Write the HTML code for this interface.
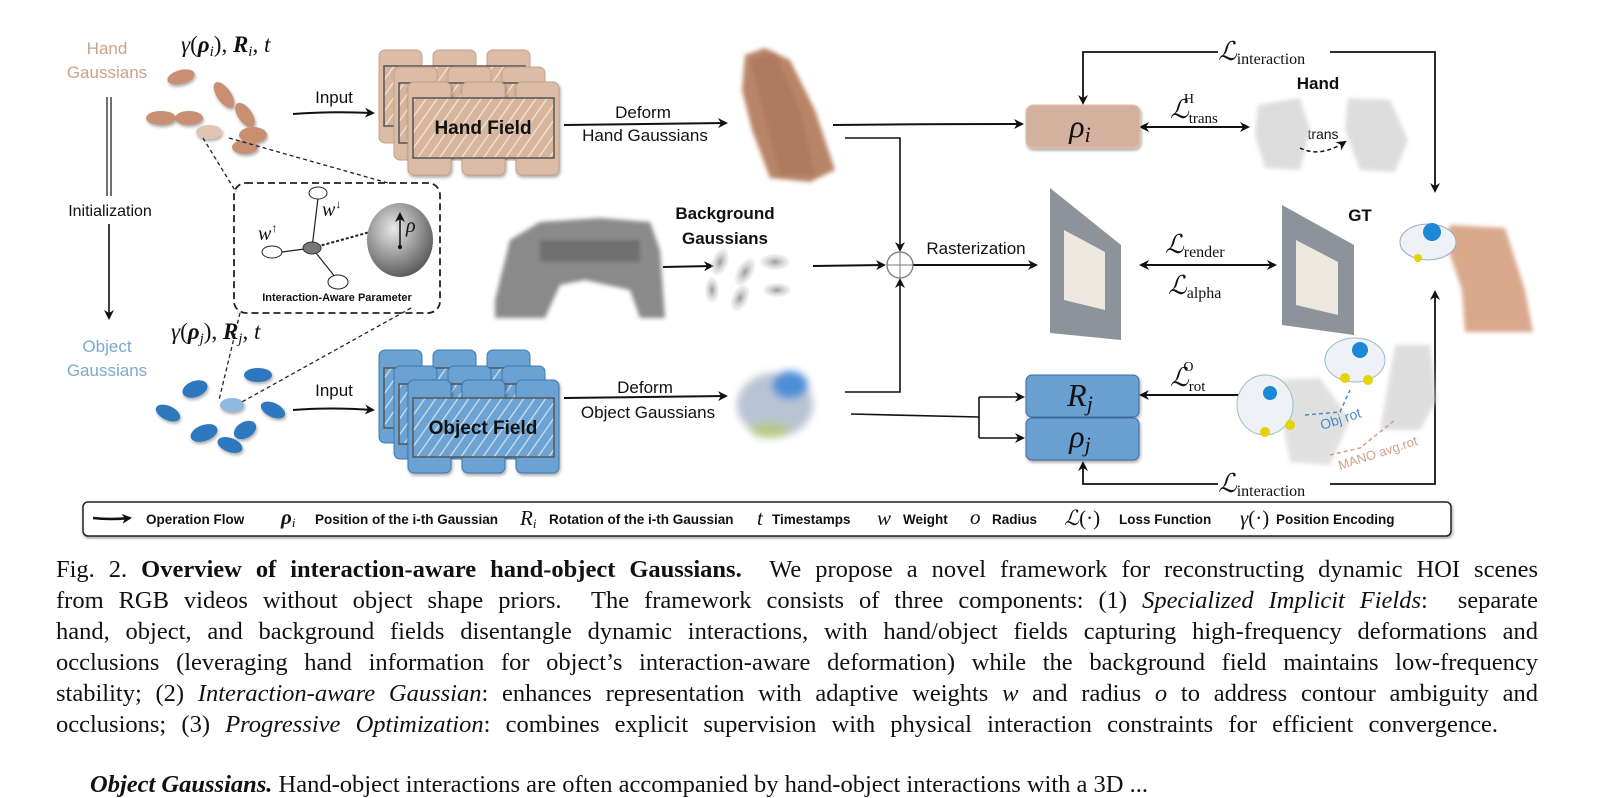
<!DOCTYPE html>
<html><head><meta charset="utf-8"><style>
html,body{margin:0;padding:0;background:#fff;}
body{width:1601px;height:782px;position:relative;overflow:hidden;}
svg{position:absolute;left:0;top:0;}
.cap{position:absolute;left:56px;width:1482px;font-family:"Liberation Serif",serif;font-size:24.5px;color:#111;white-space:nowrap;text-align:justify;text-align-last:justify;line-height:26px;}
.nl{text-align-last:left;}
</style></head><body>
<svg width="1601" height="782" viewBox="0 0 1601 782" xmlns="http://www.w3.org/2000/svg">
<defs>
<marker id="ah" markerWidth="10" markerHeight="10" refX="8" refY="5" orient="auto" markerUnits="userSpaceOnUse"><path d="M0,0 L10,5 L0,10 L3,5 z" fill="#111"/></marker>
<marker id="as" markerWidth="10" markerHeight="10" refX="2" refY="5" orient="auto" markerUnits="userSpaceOnUse"><path d="M10,0 L0,5 L10,10 L7,5 z" fill="#111"/></marker>
<pattern id="hh" width="9" height="9" patternUnits="userSpaceOnUse" patternTransform="rotate(35)"><rect width="9" height="9" fill="#d8b59c"/><line x1="0" y1="0" x2="0" y2="9" stroke="#f3e6dc" stroke-width="2.5"/></pattern>
<pattern id="ho" width="9" height="9" patternUnits="userSpaceOnUse" patternTransform="rotate(35)"><rect width="9" height="9" fill="#6da3d3"/><line x1="0" y1="0" x2="0" y2="9" stroke="#cfe2f3" stroke-width="2.5"/></pattern>
<radialGradient id="sph" cx="0.4" cy="0.35" r="0.7"><stop offset="0" stop-color="#e8e8e8"/><stop offset="1" stop-color="#555"/></radialGradient>
<radialGradient id="gg" cx="0.5" cy="0.5" r="0.5"><stop offset="0" stop-color="#999"/><stop offset="1" stop-color="#ddd" stop-opacity="0.3"/></radialGradient>
<filter id="bl"><feGaussianBlur stdDeviation="2"/></filter>
<filter id="bl4"><feGaussianBlur stdDeviation="4"/></filter>
<filter id="sh"><feDropShadow dx="1" dy="2" stdDeviation="1.5" flood-opacity="0.35"/></filter>
</defs>

<g font-family="Liberation Sans, sans-serif" font-size="17" text-anchor="middle">
<text x="107" y="54" fill="#c9a28c">Hand</text>
<text x="107" y="78" fill="#c9a28c">Gaussians</text>
<text x="107" y="352" fill="#7ca8cf">Object</text>
<text x="107" y="376" fill="#7ca8cf">Gaussians</text>
<text x="110" y="216" fill="#111" font-size="16">Initialization</text>
</g>
<line x1="107" y1="97" x2="107" y2="196" stroke="#111" stroke-width="1.2"/>
<line x1="111" y1="97" x2="111" y2="196" stroke="#111" stroke-width="1.2"/>
<line x1="109" y1="224" x2="109" y2="318" stroke="#111" stroke-width="1.6" marker-end="url(#ah)"/>

<g font-family="Liberation Serif, serif" font-size="23" fill="#111">
<text x="181" y="52"><tspan font-style="italic">γ</tspan>(<tspan font-weight="bold" font-style="italic">ρ</tspan><tspan font-style="italic" font-size="15" dy="4">i</tspan><tspan dy="-4">), </tspan><tspan font-weight="bold" font-style="italic">R</tspan><tspan font-style="italic" font-size="15" dy="4">i</tspan><tspan dy="-4">, </tspan><tspan font-style="italic">t</tspan></text>
<text x="171" y="339"><tspan font-style="italic">γ</tspan>(<tspan font-weight="bold" font-style="italic">ρ</tspan><tspan font-style="italic" font-size="15" dy="4">j</tspan><tspan dy="-4">), </tspan><tspan font-weight="bold" font-style="italic">R</tspan><tspan font-style="italic" font-size="15" dy="4">j</tspan><tspan dy="-4">, </tspan><tspan font-style="italic">t</tspan></text>
</g>

<g fill="#c98f72" filter="url(#sh)">
<ellipse cx="181" cy="77" rx="14" ry="7" transform="rotate(-15 181 77)"/>
<ellipse cx="224" cy="95" rx="15" ry="7" transform="rotate(55 224 95)"/>
<ellipse cx="245" cy="115" rx="14" ry="7" transform="rotate(55 245 115)"/>
<ellipse cx="161" cy="118" rx="15" ry="7"/>
<ellipse cx="189" cy="118" rx="14" ry="7"/>
<ellipse cx="209" cy="132" rx="13" ry="7" fill="#e2c4b3"/>
<ellipse cx="253" cy="135" rx="14" ry="8"/>
<ellipse cx="245" cy="147" rx="13" ry="7"/>
</g>
<g fill="#2e78c0" filter="url(#sh)">
<ellipse cx="258" cy="375" rx="14" ry="7"/>
<ellipse cx="195" cy="389" rx="13" ry="8" transform="rotate(-20 195 389)"/>
<ellipse cx="168" cy="413" rx="13" ry="7" transform="rotate(25 168 413)"/>
<ellipse cx="232" cy="405" rx="12" ry="7" fill="#8fb9de"/>
<ellipse cx="273" cy="410" rx="13" ry="7" transform="rotate(25 273 410)"/>
<ellipse cx="204" cy="433" rx="14" ry="8" transform="rotate(-20 204 433)"/>
<ellipse cx="245" cy="430" rx="12" ry="8" transform="rotate(-30 245 430)"/>
<ellipse cx="230" cy="445" rx="13" ry="7" transform="rotate(20 230 445)"/>
</g>

<g stroke="#222" stroke-width="1.3" stroke-dasharray="4,3" fill="none">
<line x1="203" y1="138" x2="236" y2="192"/>
<line x1="229" y1="138" x2="388" y2="183"/>
<line x1="240" y1="313" x2="219" y2="400"/>
<line x1="411" y1="308" x2="240" y2="403"/>
<rect x="234" y="183" width="206" height="130" rx="12" stroke-width="1.8" stroke-dasharray="7,4"/>
</g>
<g stroke="#222" stroke-width="1.2">
<line x1="312" y1="248" x2="318" y2="198"/>
<line x1="312" y1="248" x2="282" y2="252"/>
<line x1="312" y1="248" x2="336" y2="278"/>
<line x1="312" y1="248" x2="370" y2="232" stroke-dasharray="3,2" stroke-width="2"/>
</g>
<ellipse cx="318" cy="193" rx="9" ry="6" fill="#fff" stroke="#222"/>
<ellipse cx="272" cy="252" rx="10" ry="6" fill="#fff" stroke="#222"/>
<ellipse cx="338" cy="282" rx="10" ry="7" fill="#fff" stroke="#222"/>
<ellipse cx="312" cy="248" rx="9" ry="6" fill="#777" stroke="#333"/>
<ellipse cx="400" cy="240" rx="33" ry="37" fill="url(#sph)"/>
<line x1="400" y1="247" x2="400" y2="214" stroke="#111" stroke-width="1.5" marker-end="url(#ah)"/>
<circle cx="400" cy="247" r="2" fill="#111"/>
<g font-family="Liberation Serif, serif" font-style="italic" font-size="20" fill="#111">
<text x="406" y="232">ρ</text>
<text x="322" y="216">w<tspan font-size="12" dy="-8">↓</tspan></text>
<text x="258" y="240">w<tspan font-size="12" dy="-8">↑</tspan></text>
</g>
<text x="337" y="301" font-family="Liberation Sans, sans-serif" font-size="11" font-weight="bold" text-anchor="middle" fill="#111">Interaction-Aware Parameter</text>

<g stroke="#c4a088" stroke-width="1">
<g fill="#dcbca6"><rect x="379" y="50" width="43" height="93" rx="6"/><rect x="433" y="50" width="43" height="93" rx="6"/><rect x="487" y="50" width="43" height="93" rx="6"/></g>
<rect x="384" y="66" width="141" height="60" fill="url(#hh)" stroke="#555" stroke-width="1.5"/>
<g fill="#dcbca6"><rect x="394" y="67" width="43" height="93" rx="6"/><rect x="448" y="67" width="43" height="93" rx="6"/><rect x="502" y="67" width="43" height="93" rx="6"/></g>
<rect x="399" y="83" width="141" height="60" fill="url(#hh)" stroke="#555" stroke-width="1.5"/>
<g fill="#dcbca6" filter="url(#sh)"><rect x="408" y="82" width="43" height="93" rx="6"/><rect x="462" y="82" width="43" height="93" rx="6"/><rect x="516" y="82" width="43" height="93" rx="6"/></g>
<rect x="413" y="98" width="141" height="60" fill="url(#hh)" stroke="#555" stroke-width="1.5"/>
</g>
<text x="483" y="134" font-family="Liberation Sans, sans-serif" font-weight="bold" font-size="19" text-anchor="middle" fill="#111">Hand Field</text>

<g stroke="#3f78ad" stroke-width="1">
<g fill="#6aa2d3"><rect x="379" y="350" width="43" height="93" rx="6"/><rect x="433" y="350" width="43" height="93" rx="6"/><rect x="487" y="350" width="43" height="93" rx="6"/></g>
<rect x="384" y="368" width="141" height="60" fill="url(#ho)" stroke="#555" stroke-width="1.5"/>
<g fill="#6aa2d3"><rect x="394" y="366" width="43" height="93" rx="6"/><rect x="448" y="366" width="43" height="93" rx="6"/><rect x="502" y="366" width="43" height="93" rx="6"/></g>
<rect x="399" y="384" width="141" height="60" fill="url(#ho)" stroke="#555" stroke-width="1.5"/>
<g fill="#6aa2d3" filter="url(#sh)"><rect x="408" y="380" width="43" height="93" rx="6"/><rect x="462" y="380" width="43" height="93" rx="6"/><rect x="516" y="380" width="43" height="93" rx="6"/></g>
<rect x="413" y="398" width="141" height="59" fill="url(#ho)" stroke="#555" stroke-width="1.5"/>
</g>
<text x="483" y="434" font-family="Liberation Sans, sans-serif" font-weight="bold" font-size="19" text-anchor="middle" fill="#111">Object Field</text>

<g stroke="#111" stroke-width="2" fill="none">
<path d="M293,114 Q330,111 373,113" marker-end="url(#ah)"/>
<path d="M293,410 Q330,407 373,410" marker-end="url(#ah)"/>
<path d="M564,125 L726,123" marker-end="url(#ah)"/>
<path d="M564,398 L726,396" marker-end="url(#ah)"/>
<path d="M663,267 L712,266" marker-end="url(#ah)"/>
<path d="M833,125 Q920,124 1022,124" marker-end="url(#ah)"/>
<path d="M845,138 L900,138 L900,250" marker-end="url(#ah)" stroke-width="1.6"/>
<path d="M813,266 L884,265" marker-end="url(#ah)"/>
<path d="M845,392 L900,392 L900,280" marker-end="url(#ah)" stroke-width="1.6"/>
<path d="M913,265 L1036,265" marker-end="url(#ah)"/>
<path d="M1141,265 L1275,265" marker-end="url(#ah)" marker-start="url(#as)"/>
<path d="M1141,127 L1248,127" marker-end="url(#ah)" marker-start="url(#as)"/>
<path d="M1141,395 L1252,395" marker-end="url(#ah)" marker-start="url(#as)"/>
<path d="M851,414 L979,417" stroke-width="1.6"/>
<path d="M979,397 L979,438" stroke-width="1.6"/>
<path d="M979,397 L1023,397" marker-end="url(#ah)" stroke-width="1.6"/>
<path d="M979,438 L1023,438" marker-end="url(#ah)" stroke-width="1.6"/>
<path d="M1218,52 L1083,52 L1083,103" marker-end="url(#ah)" stroke-width="1.8"/>
<path d="M1330,52 L1435,52 L1435,191" marker-end="url(#ah)" stroke-width="1.8"/>
<path d="M1218,484 L1083,484 L1083,463" marker-end="url(#ah)" stroke-width="1.8"/>
<path d="M1330,484 L1435,484 L1435,292" marker-end="url(#ah)" stroke-width="1.8"/>
</g>
<circle cx="900" cy="265" r="13" fill="#fff" stroke="#777" stroke-width="1.3"/>
<line x1="887" y1="265" x2="913" y2="265" stroke="#777"/><line x1="900" y1="252" x2="900" y2="278" stroke="#777"/>

<g font-family="Liberation Sans, sans-serif" font-size="17" fill="#111" text-anchor="middle">
<text x="334" y="103">Input</text>
<text x="334" y="396">Input</text>
<text x="643" y="118">Deform</text>
<text x="645" y="141">Hand Gaussians</text>
<text x="645" y="393">Deform</text>
<text x="648" y="418">Object Gaussians</text>
<text x="976" y="254">Rasterization</text>
<g font-weight="bold"><text x="725" y="219">Background</text><text x="725" y="244">Gaussians</text>
<text x="1318" y="89">Hand</text><text x="1360" y="221">GT</text></g>
<text x="1323" y="139" font-size="14">trans</text>
</g>

<g font-family="Liberation Serif, serif" fill="#111">
<text x="1218" y="60" font-size="26" font-style="italic">ℒ<tspan font-style="normal" font-size="16" dy="4">interaction</tspan></text>
<text x="1218" y="492" font-size="26" font-style="italic">ℒ<tspan font-style="normal" font-size="16" dy="4">interaction</tspan></text>
<text x="1170" y="118" font-size="26" font-style="italic">ℒ<tspan font-style="normal" font-size="15" dy="5">trans</tspan><tspan font-style="normal" font-size="14" dx="-34" dy="-20">H</tspan></text>
<text x="1170" y="386" font-size="26" font-style="italic">ℒ<tspan font-style="normal" font-size="15" dy="5">rot</tspan><tspan font-style="normal" font-size="14" dx="-22" dy="-20">O</tspan></text>
<text x="1165" y="253" font-size="26" font-style="italic">ℒ<tspan font-style="normal" font-size="16" dy="4">render</tspan></text>
<text x="1168" y="294" font-size="26" font-style="italic">ℒ<tspan font-style="normal" font-size="16" dy="4">alpha</tspan></text>
</g>

<rect x="1026" y="105" width="114" height="43" rx="7" fill="#d4b19f" stroke="#e0c9a8" filter="url(#sh)"/>
<rect x="1026" y="375" width="113" height="42" rx="6" fill="#6a9fd2" stroke="#3b6d9c" filter="url(#sh)"/>
<rect x="1026" y="418" width="113" height="42" rx="6" fill="#6a9fd2" stroke="#3b6d9c" filter="url(#sh)"/>
<g font-family="Liberation Serif, serif" font-style="italic" font-size="32" fill="#111" text-anchor="middle">
<text x="1080" y="137">ρ<tspan font-size="22" dy="5">i</tspan></text>
<text x="1080" y="406">R<tspan font-size="22" dy="5">j</tspan></text>
<text x="1080" y="447">ρ<tspan font-size="22" dy="5">j</tspan></text>
</g>

<g filter="url(#bl)">
<path d="M745,55 L765,48 L790,60 L815,110 L835,170 L810,182 L770,178 L752,130 L742,90 z" fill="#b98568"/>
<path d="M750,60 L775,52 L800,110 L815,175 L780,175 z" fill="#a8735a" opacity="0.7"/>
</g>
<g filter="url(#bl)">
<path d="M495,300 L510,240 L540,222 L600,218 L650,222 L660,250 L665,318 L640,318 L630,290 L585,280 L560,285 L545,318 L495,318 z" fill="#8a8a8a"/>
<path d="M540,240 L640,240 L640,262 L540,262 z" fill="#555" opacity="0.5"/>
</g>
<g fill="url(#gg)">
<ellipse cx="720" cy="262" rx="8" ry="14" transform="rotate(20 720 262)"/>
<ellipse cx="745" cy="272" rx="8" ry="15" transform="rotate(30 745 272)"/>
<ellipse cx="775" cy="262" rx="15" ry="8"/>
<ellipse cx="712" cy="290" rx="7" ry="13"/>
<ellipse cx="740" cy="298" rx="8" ry="14" transform="rotate(25 740 298)"/>
<ellipse cx="777" cy="290" rx="14" ry="7"/>
</g>
<g filter="url(#bl4)">
<ellipse cx="775" cy="405" rx="38" ry="32" fill="#b8c4d4"/>
<ellipse cx="790" cy="385" rx="18" ry="14" fill="#4d8fd6"/>
<ellipse cx="770" cy="430" rx="20" ry="8" fill="#b9c98a"/>
</g>
<polygon points="1050,188 1121,245 1121,340 1050,333" fill="#8c939a"/>
<polygon points="1064,230 1105,252 1105,310 1064,300" fill="#ece8e0"/>
<polygon points="1282,205 1354,245 1354,335 1282,325" fill="#8c939a"/>
<polygon points="1296,240 1338,262 1338,315 1296,305" fill="#ece8e0"/>
<g fill="#d4d4d4" filter="url(#bl)" opacity="0.8">
<path d="M1258,105 L1300,98 L1310,130 L1300,170 L1265,168 L1255,135 z"/>
<path d="M1348,98 L1390,100 L1408,140 L1395,172 L1360,170 L1345,130 z"/>
</g>
<path d="M1300,148 Q1320,158 1345,142" stroke="#111" stroke-width="1.5" stroke-dasharray="4,3" fill="none" marker-end="url(#ah)"/>
<g filter="url(#bl)">
<path d="M1450,225 L1505,228 L1525,290 L1533,332 L1465,332 L1462,290 L1445,240 z" fill="#d9a88c"/>
</g>
<ellipse cx="1428" cy="242" rx="28" ry="18" fill="#eef2f6" stroke="#9ab" />
<circle cx="1432" cy="232" r="9" fill="#1e88d8"/>
<circle cx="1418" cy="258" r="4" fill="#e6d400"/>
<g filter="url(#bl)" opacity="0.7">
<path d="M1395,345 L1430,345 L1437,400 L1420,430 L1380,430 z" fill="#d0d0d0"/>
<path d="M1275,380 L1320,378 L1350,420 L1330,465 L1290,462 z" fill="#d4d4d4"/>
</g>
<ellipse cx="1355" cy="360" rx="30" ry="22" fill="#eef2f6" stroke="#9bc"/>
<circle cx="1360" cy="350" r="8" fill="#1e88d8"/>
<circle cx="1345" cy="378" r="5" fill="#e6d400"/><circle cx="1368" cy="380" r="5" fill="#e6d400"/>
<ellipse cx="1265" cy="405" rx="28" ry="30" fill="#eef2f6" stroke="#9bc"/>
<circle cx="1270" cy="393" r="7" fill="#1e88d8"/>
<circle cx="1265" cy="432" r="5" fill="#e6d400"/><circle cx="1290" cy="425" r="5" fill="#e6d400"/>
<path d="M1305,415 L1340,412 L1350,390" stroke="#4a8ac8" stroke-width="1.5" stroke-dasharray="4,3" fill="none"/>
<path d="M1330,455 L1360,448 L1395,420" stroke="#d2a08a" stroke-width="1.5" stroke-dasharray="4,3" fill="none"/>
<g font-family="Liberation Sans, sans-serif" font-size="14">
<text x="1322" y="430" fill="#4a8ac8" transform="rotate(-18 1322 430)">Obj rot</text>
<text x="1340" y="470" fill="#d2a08a" transform="rotate(-18 1340 470)" font-size="13">MANO avg.rot</text>
</g>

<rect x="83" y="502" width="1368" height="34" rx="5" fill="#fff" stroke="#222" stroke-width="1.5" filter="url(#sh)"/>
<path d="M93,518 Q110,520 130,518" stroke="#111" stroke-width="2.5" fill="none" marker-end="url(#ah)"/>
<g font-family="Liberation Sans, sans-serif" font-size="13.5" font-weight="bold" fill="#111">
<text x="146" y="524">Operation Flow</text>
<text x="315" y="524">Position of the i-th Gaussian</text>
<text x="549" y="524">Rotation of the i-th Gaussian</text>
<text x="772" y="524">Timestamps</text>
<text x="903" y="524">Weight</text>
<text x="992" y="524">Radius</text>
<text x="1119" y="524">Loss Function</text>
<text x="1276" y="524">Position Encoding</text>
</g>
<g font-family="Liberation Serif, serif" font-style="italic" font-size="21" fill="#111">
<text x="281" y="524" font-weight="bold">ρ<tspan font-size="13" font-weight="normal" dy="3">i</tspan></text>
<text x="520" y="525">R<tspan font-size="13" dy="3">i</tspan></text>
<text x="757" y="525">t</text>
<text x="877" y="525">w</text>
<text x="970" y="524">o</text>
<text x="1064" y="525">ℒ<tspan font-style="normal">(·)</tspan></text>
<text x="1240" y="525">γ<tspan font-style="normal">(·)</tspan></text>
</g>
</svg>

<div class="cap" style="top:557px">Fig. 2. <b>Overview of interaction-aware hand-object Gaussians.</b>&nbsp; We propose a novel framework for reconstructing dynamic HOI scenes</div>
<div class="cap" style="top:588px">from RGB videos without object shape priors.&nbsp; The framework consists of three components: (1) <i>Specialized Implicit Fields</i>: &nbsp;separate</div>
<div class="cap" style="top:619px">hand, object, and background fields disentangle dynamic interactions, with hand/object fields capturing high-frequency deformations and</div>
<div class="cap" style="top:650px">occlusions (leveraging hand information for object’s interaction-aware deformation) while the background field maintains low-frequency</div>
<div class="cap" style="top:681px">stability; (2) <i>Interaction-aware Gaussian</i>: enhances representation with adaptive weights <i>w</i> and radius <i>o</i> to address contour ambiguity and</div>
<div class="cap" style="top:712px;width:1442px">occlusions; (3) <i>Progressive Optimization</i>: combines explicit supervision with physical interaction constraints for efficient convergence.</div>
<div class="cap nl" style="top:772px;left:90px"><b><i>Object Gaussians.</i></b> Hand-object interactions are often accompanied by hand-object interactions with a 3D ...</div>
</body></html>
